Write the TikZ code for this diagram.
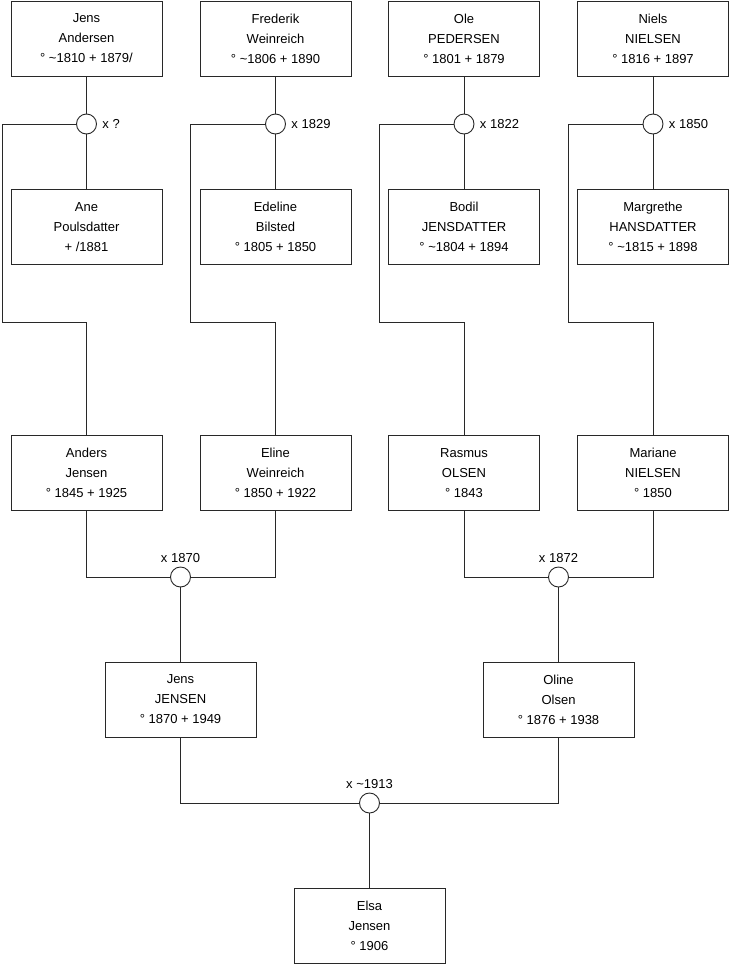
\documentclass[tikz,border=0pt]{standalone}
\usepackage{fontspec}
\setmainfont{Liberation Sans}
\usetikzlibrary{positioning}
\definecolor{linedraw}{RGB}{40, 40, 40}

\begin{document}
\begin{tikzpicture}[
    x=1pt, y=-1pt,
    font=\fontsize{13}{20}\selectfont,
    % box and marriage styles
    person/.style={draw=linedraw, fill=white, line width=0.9pt, minimum width=151pt, minimum height=75pt, align=center, inner sep=0pt},
    wedding/.style={circle, draw=linedraw, fill=white, line width=0.9pt, minimum size=20pt, inner sep=0pt},
    link/.style={draw=linedraw, line width=0.9pt}
]

% row heights
\def\Rone{38.5}    % top fathers
\def\Rtwo{227}     % top mothers
\def\Rthree{473}   % parents
\def\Rfour{699.5}  % grandparent row
\useasboundingbox (0,0) rectangle (740,975);

% ==========================================
% 1. persons
% ==========================================
\node[person] (jens_a)   at (86.5, \Rone) {Jens\\Andersen\\° \textasciitilde1810 + 1879/};
\node[person] (frederik) at (275.5, \Rone) {Frederik\\Weinreich\\° \textasciitilde1806 + 1890};
\node[person] (ole)      at (464, \Rone) {Ole\\PEDERSEN\\° 1801 + 1879};
\node[person] (niels)    at (653, \Rone) {Niels\\NIELSEN\\° 1816 + 1897};

\node[person] (ane)       at (86.5, \Rtwo) {Ane\\Poulsdatter\\+ /1881};
\node[person] (edeline)   at (275.5, \Rtwo) {Edeline\\Bilsted\\° 1805 + 1850};
\node[person] (bodil)     at (464, \Rtwo) {Bodil\\JENSDATTER\\° \textasciitilde1804 + 1894};
\node[person] (margrethe) at (653, \Rtwo) {Margrethe\\HANSDATTER\\° \textasciitilde1815 + 1898};

\node[person] (anders)  at (86.5, \Rthree) {Anders\\Jensen\\° 1845 + 1925};
\node[person] (eline)   at (275.5, \Rthree) {Eline\\Weinreich\\° 1850 + 1922};
\node[person] (rasmus)  at (464, \Rthree) {Rasmus\\OLSEN\\° 1843};
\node[person] (mariane) at (653, \Rthree) {Mariane\\NIELSEN\\° 1850};

\node[person] (jens_j) at (180.5, \Rfour) {Jens\\JENSEN\\° 1870 + 1949};
\node[person] (oline)  at (558.5, \Rfour) {Oline\\Olsen\\° 1876 + 1938};

\node[person] (elsa) at (369.5, 926) {Elsa\\Jensen\\° 1906};

% ==========================================
% 2. marriages
% ==========================================
\node[wedding] (m_jens)     at (86.5, 124) {};
\node[wedding] (m_frederik) at (275.5, 124) {};
\node[wedding] (m_ole)      at (464, 124) {};
\node[wedding] (m_niels)    at (653, 124) {};
\node[right=2pt of m_jens]     {x ?};
\node[right=2pt of m_frederik] {x 1829};
\node[right=2pt of m_ole]      {x 1822};
\node[right=2pt of m_niels]    {x 1850};

\node[wedding] (m_anders) at (180.5, 577) {};
\node[wedding] (m_rasmus) at (558.5, 577) {};
\node[wedding] (m_jens_j) at (369.5, 803) {};
\node[above=0pt of m_anders] {x 1870};
\node[above=0pt of m_rasmus] {x 1872};
\node[above=0pt of m_jens_j] {x \textasciitilde1913};

% turning points of the child lines
\coordinate (t_jens)     at (2, 322);
\coordinate (t_frederik) at (190.5, 322);
\coordinate (t_ole)      at (379, 322);
\coordinate (t_niels)    at (568.5, 322);

% ==========================================
% 3. connectors
% ==========================================
\foreach \f/\m/\t/\w/\c in {jens_a/m_jens/t_jens/ane/anders, frederik/m_frederik/t_frederik/edeline/eline,
                            ole/m_ole/t_ole/bodil/rasmus, niels/m_niels/t_niels/margrethe/mariane} {
    \draw[link] (\f.south) -- (\m.north);
    \draw[link] (\m.south) -- (\w.north);
    \draw[link] (\m.west) -| (\t) -| (\c.north);
}

\draw[link] (anders.south) |- (m_anders.west);
\draw[link] (eline.south) |- (m_anders.east);
\draw[link] (m_anders.south) -- (jens_j.north);

\draw[link] (rasmus.south) |- (m_rasmus.west);
\draw[link] (mariane.south) |- (m_rasmus.east);
\draw[link] (m_rasmus.south) -- (oline.north);

\draw[link] (jens_j.south) |- (m_jens_j.west);
\draw[link] (oline.south) |- (m_jens_j.east);
\draw[link] (m_jens_j.south) -- (elsa.north);

\end{tikzpicture}
\end{document}
